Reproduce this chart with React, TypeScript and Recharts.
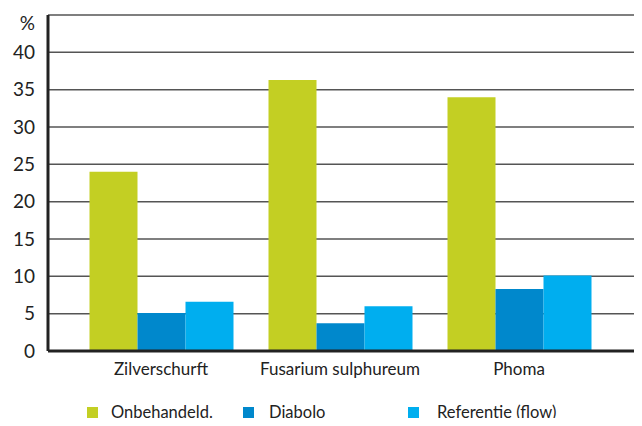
import React from "react";
import { BarChart, Bar, XAxis, YAxis, CartesianGrid, Legend } from "recharts";

const categories = ["Zilverschurft", "Fusarium sulphureum", "Phoma"];
const onbehandeld = [24.0, 36.3, 34.0];
const diabolo = [5.1, 3.7, 8.3];
const referentie = [6.6, 6.0, 10.1];
const yTicks = [0, 5, 10, 15, 20, 25, 30, 35, 40];

const seriesNames = ["Onbehandeld.", "Diabolo", "Referentie (flow)"];
const seriesColors = ["#C3CF23", "#0088CC", "#00AEEF"];

const data = categories.map((c, i) => ({
  name: c,
  a: onbehandeld[i],
  b: diabolo[i],
  c: referentie[i],
}));

const FONT = "Lato, 'DejaVu Sans', sans-serif";

const legendSwatchX = [87, 243, 408];
const legendTextX = [111, 269, 437];

const LegendContent = () => (
  <div style={{ position: "relative", height: 40, width: 642, fontFamily: FONT }}>
    {seriesNames.map((n, i) => (
      <div key={n}>
        <div
          style={{
            position: "absolute",
            left: legendSwatchX[i],
            top: 26,
            width: 11,
            height: 11,
            background: seriesColors[i],
          }}
        />
        <div
          style={{
            position: "absolute",
            left: legendTextX[i],
            top: 21,
            fontSize: 16.5,
            lineHeight: "20px",
            color: "#222",
            whiteSpace: "nowrap",
          }}
        >
          {n}
        </div>
      </div>
    ))}
  </div>
);

const PercentLabel = (props: any) => {
  const vb = props.viewBox || { x: 0, y: 0, width: 48 };
  return (
    <text
      x={vb.x + vb.width - 13}
      y={vb.y + 7}
      textAnchor="end"
      dominantBaseline="central"
      fill="#222"
      fontSize={19}
      fontFamily={FONT}
    >
      %
    </text>
  );
};

export default function App() {
  return (
    <div style={{ margin: -8, width: 642, height: 426, background: "#fff" }}>
      <BarChart
        width={642}
        height={426}
        data={data}
        margin={{ top: 15, right: 5, bottom: 5, left: 0 }}
        barCategoryGap={18}
        barGap={0}
      >
        <CartesianGrid vertical={false} stroke="#555" strokeWidth={1.5} />
        <XAxis
          dataKey="name"
          height={30}
          padding={{ left: 23.5, right: 28.5 }}
          axisLine={{ stroke: "#222", strokeWidth: 3 }}
          tickLine={false}
          tickSize={0}
          tickMargin={12}
          tick={{ fill: "#222", fontSize: 17, fontFamily: FONT }}
        />
        <YAxis
          width={48}
          domain={[0, 45]}
          ticks={yTicks}
          interval={0}
          axisLine={{ stroke: "#222", strokeWidth: 3 }}
          tickLine={false}
          tickSize={0}
          tickMargin={13}
          tick={{ fill: "#222", fontSize: 19, fontFamily: FONT }}
          label={<PercentLabel />}
        />
        <YAxis
          yAxisId="r"
          orientation="right"
          width={0}
          domain={[0, 45]}
          tick={false}
          tickLine={false}
          axisLine={{ stroke: "#222", strokeWidth: 3 }}
        />
        <Legend verticalAlign="bottom" content={<LegendContent />} wrapperStyle={{ left: 0, width: 642 }} />
        <Bar dataKey="a" name={seriesNames[0]} fill={seriesColors[0]} isAnimationActive={false} />
        <Bar dataKey="b" name={seriesNames[1]} fill={seriesColors[1]} isAnimationActive={false} />
        <Bar dataKey="c" name={seriesNames[2]} fill={seriesColors[2]} isAnimationActive={false} />
      </BarChart>
    </div>
  );
}
